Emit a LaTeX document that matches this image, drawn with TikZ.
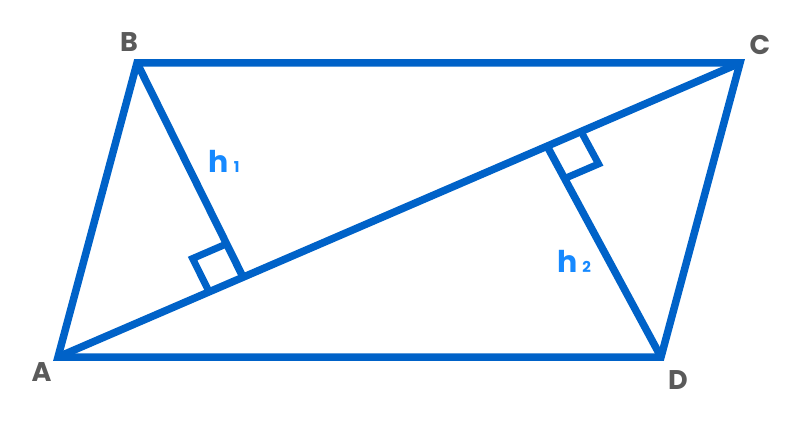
\documentclass[tikz,border=0pt]{standalone}
\usepackage{fontspec}
\setmainfont{Poppins}
\usetikzlibrary{calc,positioning}
\definecolor{edgeblue}{RGB}{0,98,200}
\definecolor{hblue}{RGB}{22,137,255}
\definecolor{lblgray}{RGB}{90,90,90}

\begin{document}
\begin{tikzpicture}[x=1pt,y=-1pt,
	edge/.style={draw=edgeblue, line width=7.5pt, line join=miter},
	rightmark/.style={draw=edgeblue, line width=7pt, line join=miter},
	vlabel/.style={text=lblgray, font=\fontsize{27}{27}\selectfont\bfseries, inner sep=0pt},
	hlabel/.style={text=hblue, font=\fontsize{30}{30}\selectfont\bfseries, inner sep=0pt}]
	\useasboundingbox (0,0) rectangle (802,422);
	% vertices and feet
	\coordinate (A) at (58,357);
	\coordinate (B) at (137,63);
	\coordinate (C) at (740,63);
	\coordinate (D) at (661,357);
	\coordinate (F1) at (243,277);
	\coordinate (F2) at (547,146);
	% parallelogram and diagonal
	\draw[edge] (A)--(B)--(C)--(D)--cycle;
	\draw[edge] (A)--(C);
	% heights
	\draw[edge] (B)--(F1);
	\draw[edge] (D)--(F2);
	% right angles
	\coordinate (m1a) at ($(F1)!37pt!(A)$);
	\coordinate (m1b) at ($(F1)!37pt!(B)$);
	\draw[rightmark] (m1a)--($(m1a)+(m1b)-(F1)$)--(m1b);
	\coordinate (m2a) at ($(F2)!37pt!(C)$);
	\coordinate (m2b) at ($(F2)!37pt!(D)$);
	\draw[rightmark] (m2a)--($(m2a)+(m2b)-(F2)$)--(m2b);
	% labels
	\node[vlabel] (lA) at (41.5,372.5) {A};
	\node[vlabel] (lB) at (129,42.5) {B};
	\node[vlabel] (lC) at (760,45) {C};
	\node[vlabel] (lD) at (678,380) {D};
	\node[hlabel] (h1) at (224,161) {h\,{\fontsize{15}{15}\selectfont 1}};
	\node[hlabel] (h2) at (574,261) {h\,{\fontsize{15}{15}\selectfont 2}};
\end{tikzpicture}
\end{document}
